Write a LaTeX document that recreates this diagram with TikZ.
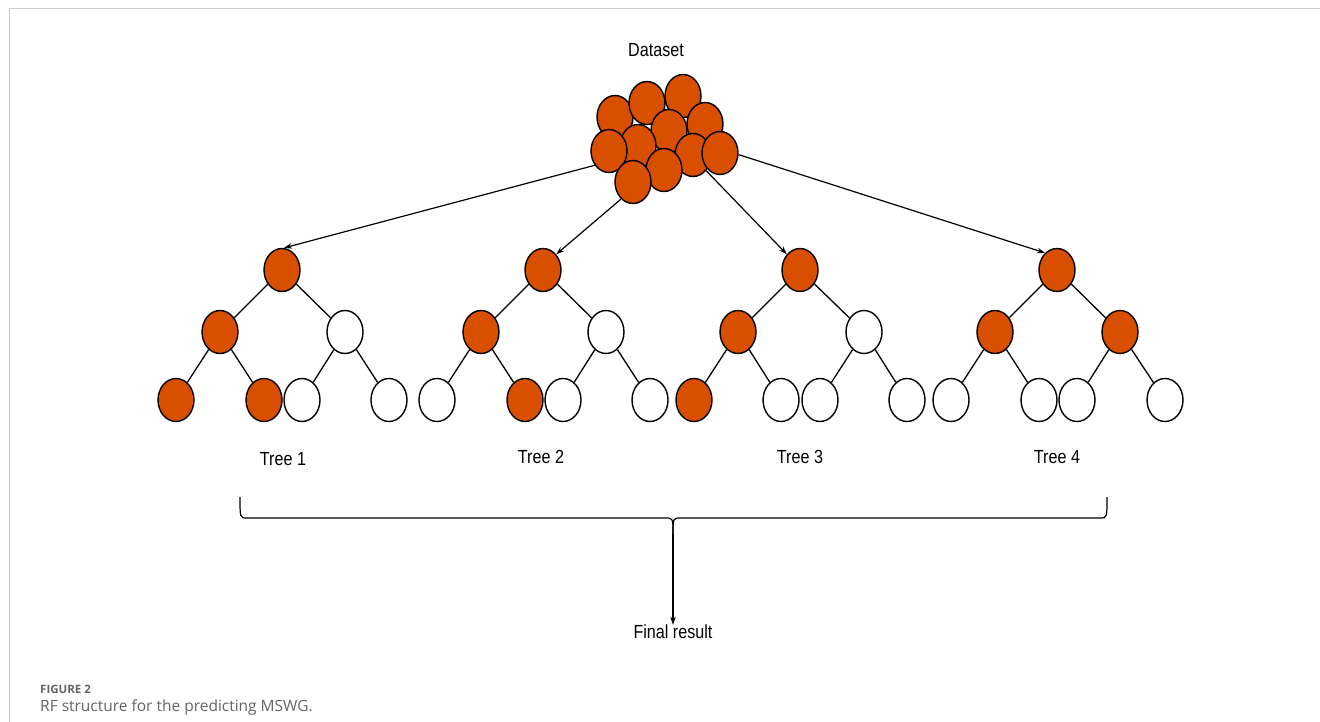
\documentclass[tikz,border=0pt]{standalone}
\usepackage{fontspec}
\setmainfont{Liberation Sans}
\newfontfamily\labfont[FakeStretch=0.85]{Liberation Sans}
\newfontfamily\capfont{Open Sans}
\usetikzlibrary{shapes.geometric,arrows.meta}
\definecolor{rforange}{RGB}{217,79,0}
\definecolor{capgray}{RGB}{100,100,100}
\definecolor{framegray}{RGB}{205,205,205}
\tikzset{
  leaf/.style={ellipse,draw=black,line width=1.4pt,minimum width=36pt,minimum height=43pt,inner sep=0pt},
  onode/.style={leaf,fill=rforange},
  wnode/.style={leaf,fill=white},
  edge/.style={line width=1.3pt},
  arr/.style={line width=1.2pt,-{Stealth[length=8pt,width=5.5pt]}},
  lab/.style={font=\labfont\fontsize{19}{22}\selectfont,inner sep=0pt},
}
\begin{document}
\begin{tikzpicture}[x=1pt,y=-1pt]
\useasboundingbox (0,0) rectangle (1320,722);
% frame
\draw[framegray,line width=1pt] (9,722) -- (9,9) -- (1320,9);
% dataset cluster
\node[lab] (ds) at (656,50) {Dataset};
\node[onode] (c1) at (615,117) {};
\node[onode] (c2) at (647,103) {};
\node[onode] (c3) at (683,96) {};
\node[onode] (c4) at (705,124) {};
\node[onode] (c5) at (669,131) {};
\node[onode] (c6) at (638,146) {};
\node[onode] (c7) at (609,151) {};
\node[onode] (c8) at (693,155) {};
\node[onode] (c9) at (720,153) {};
\node[onode] (c10) at (664,170) {};
\node[onode] (c11) at (633,182) {};
% Tree 1
\node[onode] (t1r) at (282,270) {};
\node[onode] (t1a) at (220,332) {};
\node[wnode] (t1b) at (345,332) {};
\node[onode] (t1aa) at (176,400) {};
\node[onode] (t1ab) at (264,400) {};
\node[wnode] (t1ba) at (302,400) {};
\node[wnode] (t1bb) at (389,400) {};
% Tree 2
\node[onode] (t2r) at (543,270) {};
\node[onode] (t2a) at (481,332) {};
\node[wnode] (t2b) at (606,332) {};
\node[wnode] (t2aa) at (437,400) {};
\node[onode] (t2ab) at (525,400) {};
\node[wnode] (t2ba) at (563,400) {};
\node[wnode] (t2bb) at (650,400) {};
% Tree 3
\node[onode] (t3r) at (800,270) {};
\node[onode] (t3a) at (738,332) {};
\node[wnode] (t3b) at (864,332) {};
\node[onode] (t3aa) at (694,400) {};
\node[wnode] (t3ab) at (781,400) {};
\node[wnode] (t3ba) at (820,400) {};
\node[wnode] (t3bb) at (907,400) {};
% Tree 4
\node[onode] (t4r) at (1057,270) {};
\node[onode] (t4a) at (995,332) {};
\node[onode] (t4b) at (1120,332) {};
\node[wnode] (t4aa) at (951,400) {};
\node[wnode] (t4ab) at (1039,400) {};
\node[wnode] (t4ba) at (1077,400) {};
\node[wnode] (t4bb) at (1165,400) {};
% tree edges
\foreach \t in {1,2,3,4}{
  \draw[edge] (t\t r) -- (t\t a);
  \draw[edge] (t\t r) -- (t\t b);
  \draw[edge] (t\t a) -- (t\t aa);
  \draw[edge] (t\t a) -- (t\t ab);
  \draw[edge] (t\t b) -- (t\t ba);
  \draw[edge] (t\t b) -- (t\t bb);
}
% arrows from dataset
\draw[arr] (c7.225) -- (t1r.85);
\draw[arr] (c11.235) -- (t2r.50);
\draw[arr] (c8.310) -- (t3r.130);
\draw[arr] (c9.355) -- (t4r.125);
% tree labels
\node[lab] (l1) at (283,459) {Tree 1};
\node[lab] (l2) at (541,457) {Tree 2};
\node[lab] (l3) at (800,457) {Tree 3};
\node[lab] (l4) at (1057,457) {Tree 4};
% brace
\coordinate (bl) at (240,497);
\coordinate (br) at (1107,497);
\coordinate (bm) at (673,534);
\draw[line width=1.2pt] (bl) .. controls (240,518) .. (247,518) -- (665,518) .. controls (673,518) .. (bm);
\draw[line width=1.2pt] (br) .. controls (1107,518) .. (1100,518) -- (681,518) .. controls (673,518) .. (bm);
% final result
\node[lab] (fr) at (673,632) {Final result};
\draw[arr] (bm) -- (fr.north);
% caption
\node[anchor=west,inner sep=0pt,text=capgray,font=\capfont\bfseries\fontsize{11.5}{13}\selectfont] (figl) at (40,689) {FIGURE 2};
\node[anchor=west,inner sep=0pt,text=capgray,font=\capfont\fontsize{15.5}{18}\selectfont] (figc) at (40,707) {RF structure for the predicting MSWG.};
\end{tikzpicture}
\end{document}
